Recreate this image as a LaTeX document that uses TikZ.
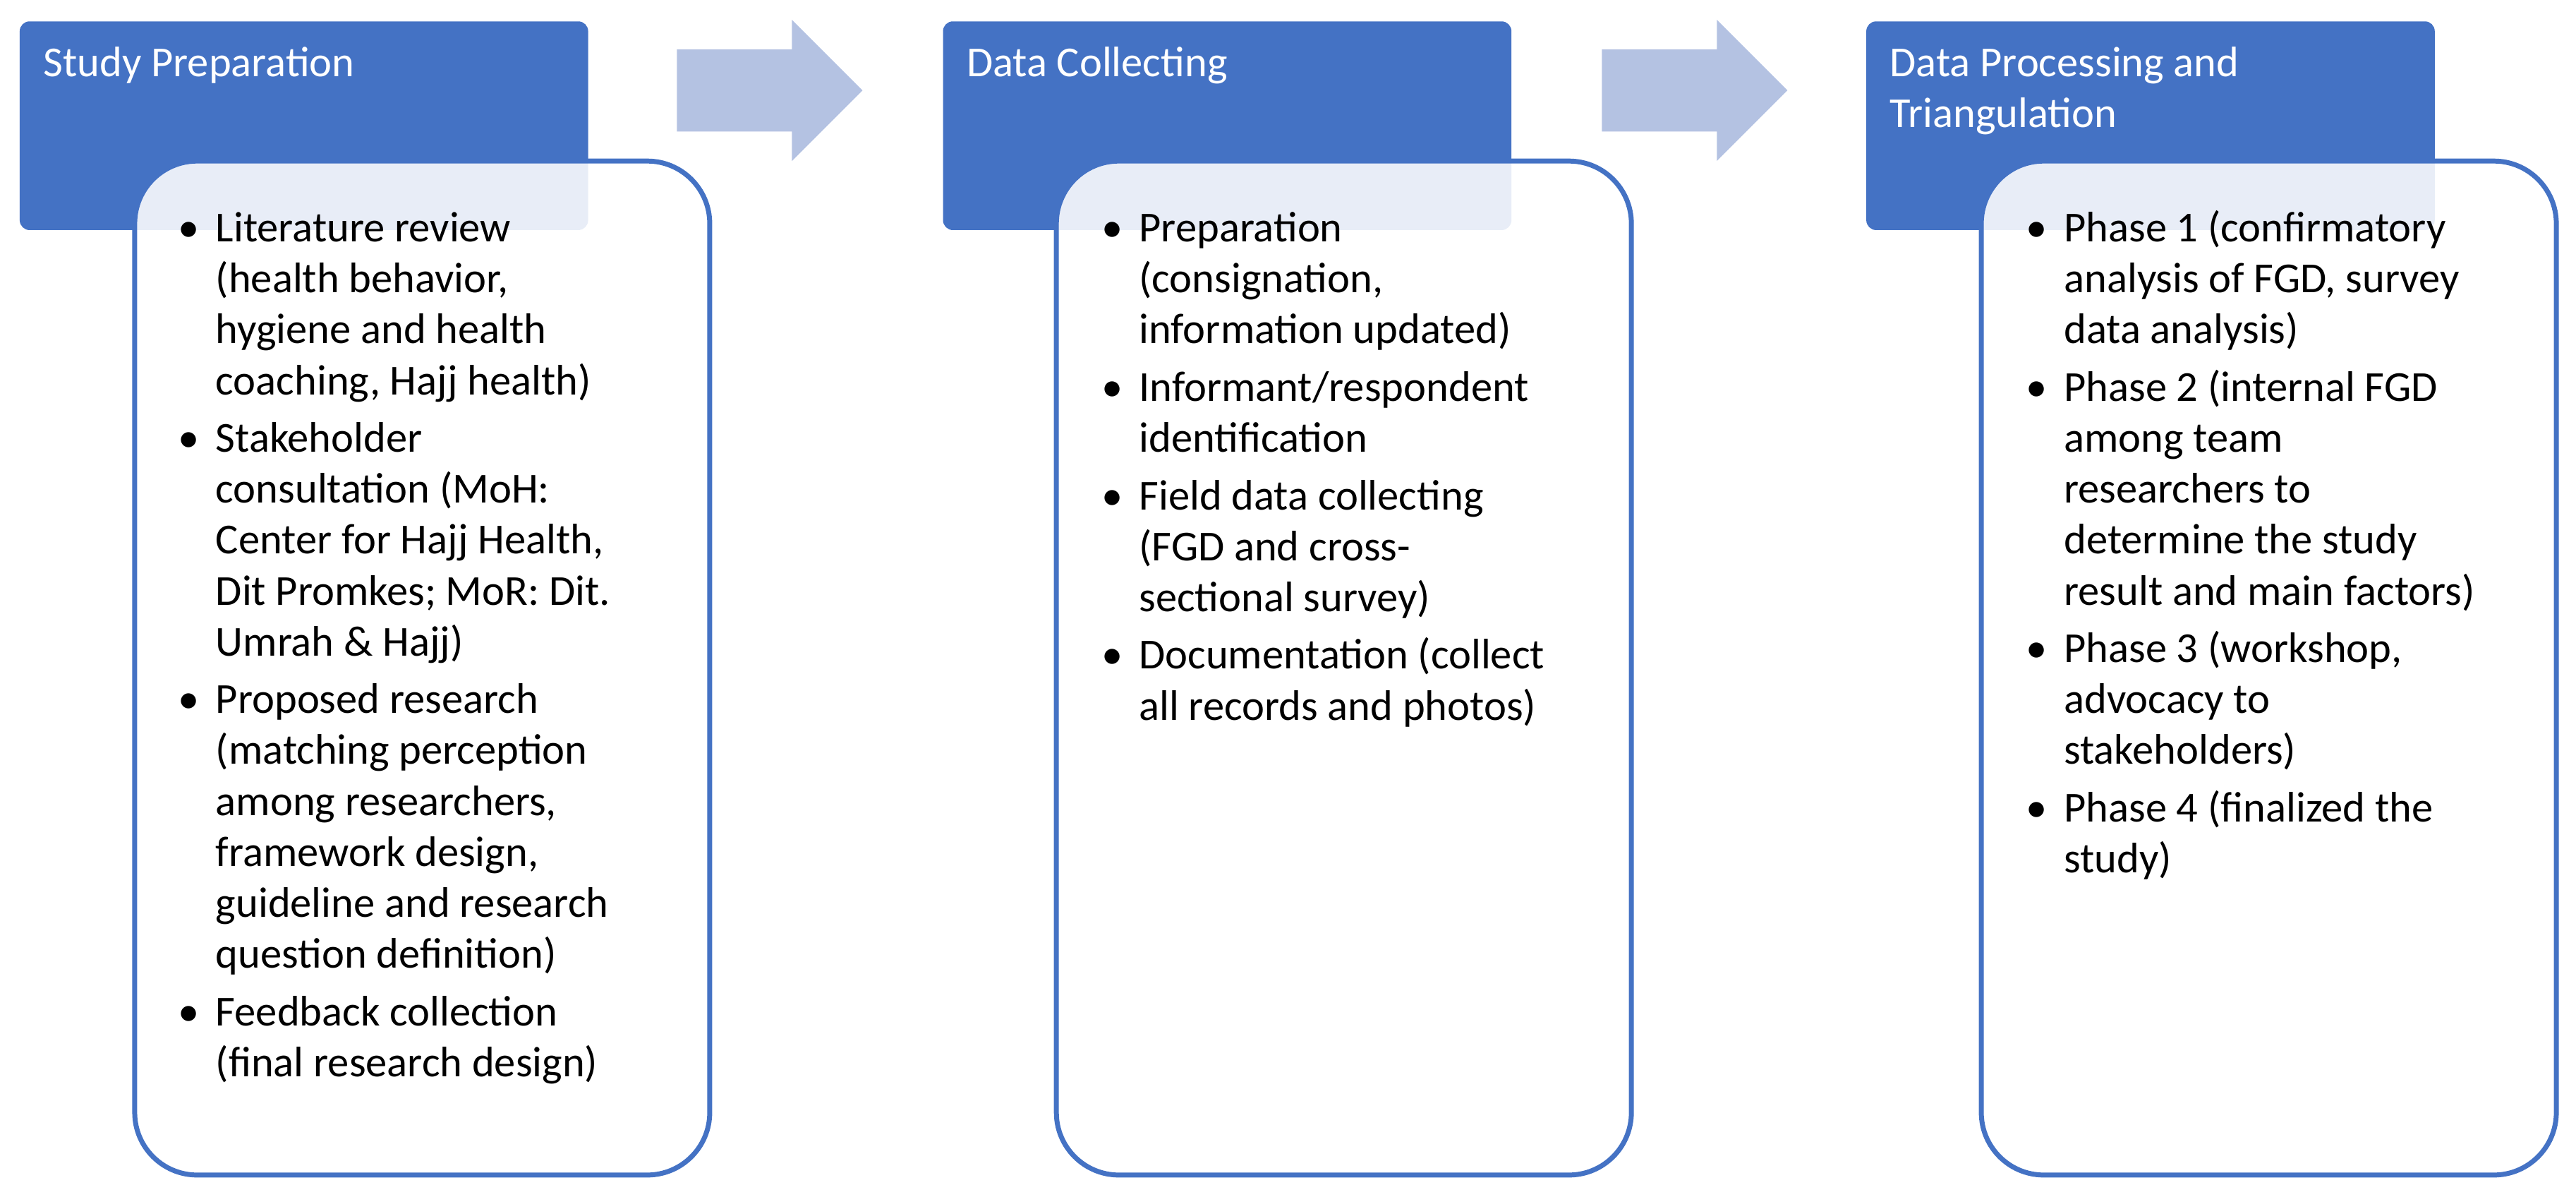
\documentclass[tikz,border=0pt]{standalone}
\usepackage{fontspec}
\setmainfont{Carlito}
\definecolor{hdrblue}{RGB}{68,114,196}
\definecolor{arrblue}{RGB}{180,194,226}
\newcommand{\bl}{\textbullet}
\tikzset{
  header/.style={fill=hdrblue, rounded corners=3pt},
  panel/.style={draw=hdrblue, line width=1.5pt, fill=white, fill opacity=0.88, rounded corners=19pt},
  htext/.style={anchor=north west, inner sep=0pt, text=white, align=left, font=\fontsize{13}{15.5}\selectfont},
  btext/.style={anchor=north west, inner sep=0pt, align=left, font=\fontsize{13}{15.5}\selectfont},
  steparrow/.style={fill=arrblue}
}
\begin{document}
\begin{tikzpicture}[x=0.5pt,y=-0.5pt]
\useasboundingbox (0,0) rectangle (1568,728);

% header boxes
\fill[header] (12,13) rectangle (358,140);
\fill[header] (574,13) rectangle (920,140);
\fill[header] (1136,13) rectangle (1482,140);

% panels
\draw[panel] (82,98) rectangle (432,715);
\draw[panel] (643,98) rectangle (993,715);
\draw[panel] (1206,98) rectangle (1556,715);

% step arrows
\fill[steparrow] (412,30) -- (482,30) -- (482,12) -- (525,55) -- (482,98) -- (482,80) -- (412,80) -- cycle;
\fill[steparrow] (975,30) -- (1045,30) -- (1045,12) -- (1088,55) -- (1045,98) -- (1045,80) -- (975,80) -- cycle;

% header texts
\node[htext] (prep) at (26,28) {Study Preparation};
\node[htext] (coll) at (588,28) {Data Collecting};
\node[htext] (proc) at (1150,28) {Data Processing and\\Triangulation};

% panel texts
\node[btext] (preplist) at (108,125) {\begin{tabular}{@{}l@{\hspace{5pt}}l@{}}
\bl & Literature review\\
 & (health behavior,\\
 & hygiene and health\\
 & coaching, Hajj health)\\[2pt]
\bl & Stakeholder\\
 & consultation (MoH:\\
 & Center for Hajj Health,\\
 & Dit Promkes; MoR: Dit.\\
 & Umrah \& Hajj)\\[2pt]
\bl & Proposed research\\
 & (matching perception\\
 & among researchers,\\
 & framework design,\\
 & guideline and research\\
 & question definition)\\[2pt]
\bl & Feedback collection\\
 & (final research design)
\end{tabular}};

\node[btext] (colllist) at (670,125) {\begin{tabular}{@{}l@{\hspace{5pt}}l@{}}
\bl & Preparation\\
 & (consignation,\\
 & information updated)\\[2pt]
\bl & Informant/respondent\\
 & identification\\[2pt]
\bl & Field data collecting\\
 & (FGD and cross-\\
 & sectional survey)\\[2pt]
\bl & Documentation (collect\\
 & all records and photos)
\end{tabular}};

\node[btext] (proclist) at (1233,125) {\begin{tabular}{@{}l@{\hspace{5pt}}l@{}}
\bl & Phase 1 (confirmatory\\
 & analysis of FGD, survey\\
 & data analysis)\\[2pt]
\bl & Phase 2 (internal FGD\\
 & among team\\
 & researchers to\\
 & determine the study\\
 & result and main factors)\\[2pt]
\bl & Phase 3 (workshop,\\
 & advocacy to\\
 & stakeholders)\\[2pt]
\bl & Phase 4 (finalized the\\
 & study)
\end{tabular}};
\end{tikzpicture}
\end{document}
